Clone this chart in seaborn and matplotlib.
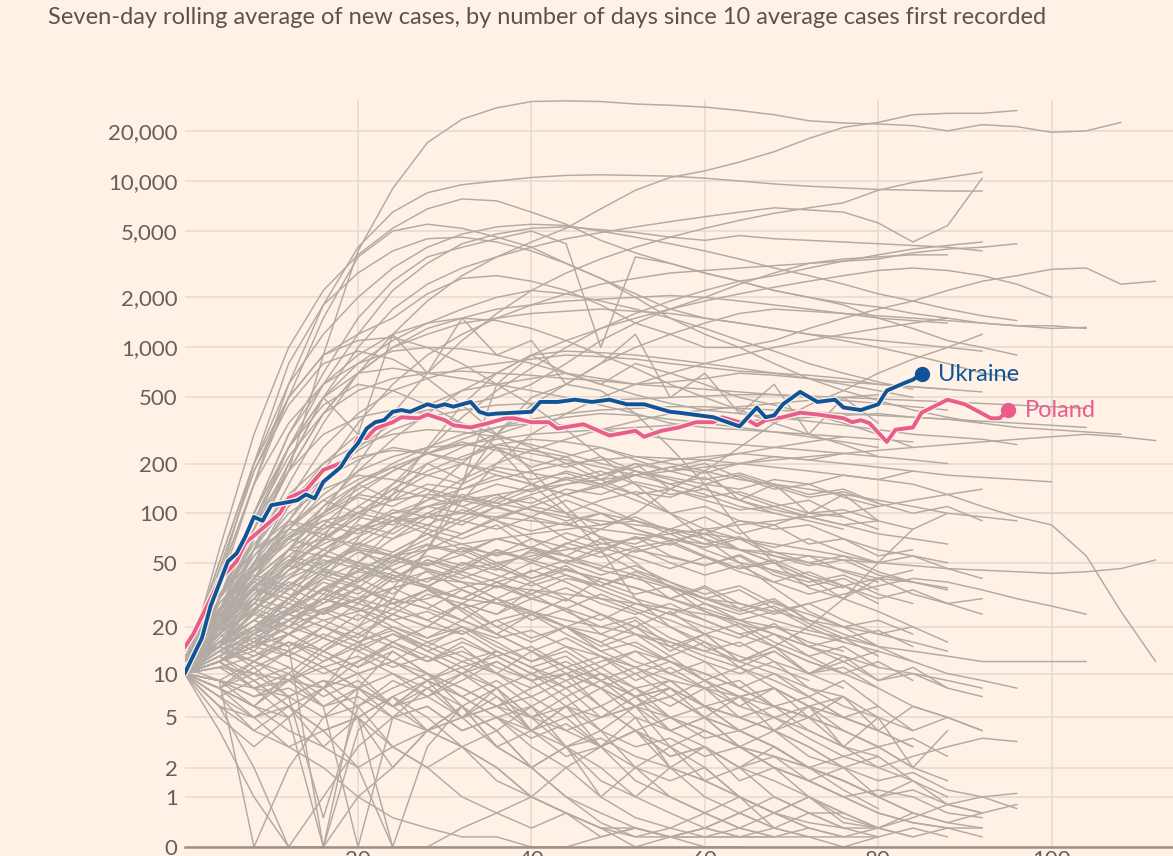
import numpy as np
import pandas as pd
import matplotlib
matplotlib.use("Agg")
import matplotlib.pyplot as plt
import matplotlib.patheffects as pe
import seaborn as sns

# ---------------- data ----------------
TITLE = "Seven-day rolling average of new cases, by number of days since 10 average cases first recorded"

ukraine_days = [0, 2, 3, 5, 6, 7, 8, 9, 10, 12, 13, 14, 15, 16, 18, 19, 20, 21, 22, 23, 24, 25, 26, 28, 29, 30,
                31, 33, 34, 35, 36, 38, 40, 41, 43, 45, 47, 49, 51, 53, 56, 57, 61, 64, 66, 67, 68, 69, 71, 73,
                75, 76, 78, 80, 81, 83, 84, 85]
ukraine_vals = [10, 17, 27, 51, 57, 72, 95, 90, 112, 117, 120, 130, 123, 155, 190, 230, 265, 325, 355, 365, 410,
                420, 410, 455, 440, 455, 440, 470, 410, 395, 400, 405, 410, 470, 470, 485, 470, 485, 455, 455,
                410, 405, 380, 335, 435, 380, 390, 455, 540, 470, 485, 435, 420, 455, 550, 610, 640, 690]

poland_days = [0, 1, 3, 4, 6, 7, 9, 11, 12, 14, 16, 18, 19, 20, 21, 22, 24, 25, 27, 28, 30, 31, 33, 35, 37, 38,
               40, 42, 43, 46, 49, 52, 53, 55, 57, 59, 61, 62, 64, 65, 66, 67, 69, 71, 73, 76, 77, 78, 79, 81,
               82, 84, 85, 88, 90, 93, 94, 95]
poland_vals = [14.8, 18, 30, 39, 51, 66, 81, 100, 124, 138, 183, 201, 218, 285, 285, 325, 355, 380, 375, 395,
               365, 340, 330, 350, 375, 375, 355, 355, 325, 345, 295, 315, 290, 315, 330, 355, 355, 380, 355,
               365, 340, 365, 380, 405, 395, 375, 355, 365, 350, 270, 320, 330, 405, 485, 455, 375, 375, 420]

# other countries, sampled every STEP days from day 0
STEP = 4
a01 = [10, 30, 90, 180, 900, 3800, 9000, 17000, 23500, 27500, 30000, 30300, 30000, 29000, 28500, 27800, 26500,
       25000, 23000, 22300, 22000, 21500, 20000, 21800, 21200, 19600, 20000, 22500]
a02 = [10, 22, 60, 150, 350, 700, 1200, 1900, 2700, 3500, 4300, 5200, 6800, 8800, 10500, 11500, 13000, 15000,
       18000, 21000, 22500, 25000, 25500, 25500, 26500]
a03 = [10, 60, 300, 1000, 2200, 3600, 5200, 6800, 7800, 7600, 6500, 5500, 4400, 3700, 3200, 2800, 2500, 2200,
       2000, 1850, 1750, 1600, 1500, 1400, 1350, 1300, 1320]
a04 = [12, 50, 200, 600, 1200, 2000, 3000, 4000, 4800, 5300, 5500, 5400, 5000, 4600, 4200, 3800, 3400, 3000,
       2700, 2400, 2100, 1900, 1700, 1550, 1450]
a05 = [10, 25, 80, 250, 600, 1200, 2200, 3200, 4200, 4800, 5200, 5300, 5100, 4900, 4600, 4400, 4700, 4500,
       4400, 4300, 4200, 4100, 4000, 3800]
a06 = [10, 30, 100, 300, 700, 1500, 2500, 3500, 4000, 4500, 5000, 4200, 1000, 3500, 3200, 2800, 2500, 2200,
       2000, 1800, 1500, 1300, 1100, 1000, 900]
a07 = [10, 40, 150, 500, 1500, 3500, 5000, 5500, 5200, 4600, 4000, 3200, 2600, 2000, 1500, 1200, 1000, 800,
       650, 550, 480, 420, 380, 350]
a08 = [12, 45, 180, 500, 900, 1200, 1500, 2100, 2600, 2700, 2500, 2200, 1800, 1400, 1200, 1000, 1000, 1100,
       1300, 1500, 1700, 1900, 2200, 2500, 2700, 2950, 3000, 2400, 2500]
a09 = [10, 15, 25, 50, 100, 200, 400, 700, 1100, 1600, 2200, 2800, 3400, 4000, 4600, 5200, 5800, 6400, 6900,
       7400, 8800, 9800, 10500, 11300]
a10 = [10, 35, 150, 600, 1800, 4000, 6500, 8500, 9500, 10000, 10500, 10800, 10900, 10800, 10700, 10400,
       10000, 9600, 9300, 9100, 8900, 8800, 8700, 8700]
a11 = [10, 20, 60, 200, 500, 1000, 1700, 2400, 3000, 3500, 4000, 4500, 4900, 5300, 5700, 6100, 6500, 6900,
       6700, 6500, 5600, 4300, 5400, 10400]
a12 = [10, 18, 40, 90, 180, 350, 600, 900, 1200, 1500, 1800, 2100, 2400, 2600, 2800, 2900, 3000, 3100, 3200,
       3300, 3400, 3700, 3900, 4000, 4200]
a13 = [10, 40, 200, 800, 1800, 2800, 3800, 4500, 4600, 4300, 3800, 3200, 2600, 2100, 1700, 1500, 1400, 1300,
       1200, 1150, 1100, 1050, 1000, 950]
a14 = [10, 30, 100, 300, 600, 900, 1200, 1400, 1500, 1450, 1300, 1100, 900, 750, 600, 500, 420, 350, 300,
       260, 220]

b01 = [10, 25, 70, 180, 400, 700, 1000, 1300, 1500, 1700, 1800, 1900, 1950, 2000, 2050, 2000, 1900, 1800,
       1700, 1600, 1500, 1450, 1400]
b02 = [10, 30, 90, 250, 500, 800, 1100, 1400, 1700, 2000, 2200, 2100, 1900, 1700, 1500, 1300, 1100, 950,
       800, 700, 620, 560]
b03 = [10, 12, 18, 30, 55, 90, 150, 240, 380, 550, 750, 1000, 1300, 1600, 1900, 2200, 2500, 2700, 3000, 3300,
       3600, 3900, 4100, 4300]
b04 = [10, 20, 50, 110, 200, 300, 380, 420, 450, 500, 600, 800, 1100, 1400, 1700, 2000, 2400, 2800, 3200,
       3400, 3500, 3600, 3600]
b05 = [10, 25, 70, 180, 400, 700, 1000, 1200, 1400, 1500, 1600, 1650, 1700, 1650, 1600, 1500, 1400, 1300,
       1200, 1100, 1000, 900, 800, 700, 650]
b06 = [10, 18, 40, 80, 150, 250, 350, 450, 550, 600, 650, 700, 650, 600, 620, 650, 700, 680, 650, 620, 600,
       580, 560]
b07 = [10, 15, 30, 60, 110, 180, 280, 400, 550, 700, 900, 1100, 1300, 1500, 1700, 1900, 2100, 2300, 2500,
       2700, 2900, 3000, 2900, 2700, 2400, 2000]
b08 = [10, 12, 15, 20, 30, 50, 80, 130, 200, 300, 450, 600, 800, 1000, 1200, 1400, 1600, 1700, 1650, 1600,
       1550, 1500, 1450, 1400, 1350, 1350, 1300]
b09 = [10, 30, 80, 200, 500, 300, 1200, 700, 1500, 900, 1100, 600, 800, 1200, 500, 700, 400, 600, 300, 500,
       350]
b10 = [10, 50, 200, 500, 900, 1100, 1150, 1000, 800, 600, 450, 320, 220, 150, 100, 70, 50, 35, 25, 20, 15]
b11 = [10, 45, 180, 450, 800, 950, 850, 650, 450, 300, 180, 110, 70, 50, 35, 25, 20, 15, 12, 10]
b12 = [10, 30, 100, 250, 500, 700, 750, 700, 650, 600, 550, 500, 450, 400, 350, 330, 320, 310, 300, 290, 280,
       270]
b13 = [10, 30, 100, 250, 450, 600, 550, 450, 350, 250, 150, 100, 60, 30, 20, 15, 12, 15, 20, 30, 50, 80, 100]
b14 = [10, 12, 15, 25, 40, 70, 130, 250, 450, 700, 900, 950, 930, 900, 850, 800, 750, 700, 650, 600, 550, 500]
b15 = [10, 8, 6, 10, 15, 20, 35, 60, 150, 600, 900, 700, 600, 800, 700, 600, 500, 450, 400, 350, 300, 250]
b16 = [10, 12, 15, 18, 25, 35, 50, 80, 150, 300, 500, 600, 550, 400, 250, 150, 80, 50, 35, 30, 40, 45]
b17 = [10, 30, 90, 220, 400, 550, 650, 700, 720, 700, 680, 650, 630, 600, 580, 560, 540, 520, 500, 480, 460,
       440, 420]
b18 = [10, 20, 50, 120, 250, 400, 550, 650, 750, 800, 850, 900, 880, 850, 800, 760, 720, 700, 680, 650, 600,
       580, 560, 540]
b19 = [10, 40, 150, 350, 600, 800, 950, 1000, 980, 900, 800, 700, 600, 520, 460, 420, 400, 380, 360, 340, 320,
       300, 290, 280, 260]

c01 = [10, 20, 45, 80, 130, 180, 220, 250, 260, 250, 230, 210, 190, 170, 150, 130, 110, 100, 90, 80]
c02 = [10, 25, 60, 120, 180, 220, 240, 230, 200, 170, 150, 130, 110, 90, 75, 60, 50, 45, 40, 35]
c03 = [10, 14, 20, 30, 45, 65, 90, 120, 160, 200, 240, 280, 320, 360, 400, 420, 440, 460, 480, 500, 520]
c04 = [10, 18, 35, 60, 100, 150, 200, 250, 300, 330, 350, 340, 320, 300, 280, 270, 260, 250, 240, 230, 220,
       210, 200]
c05 = [10, 15, 25, 40, 60, 80, 100, 110, 120, 130, 140, 150, 160, 170, 180, 190, 200, 210, 220, 230, 240, 250,
       260, 270, 280, 290, 300, 290, 275]
c06 = [10, 20, 40, 70, 110, 150, 190, 230, 260, 280, 300, 310, 320, 330, 340, 350, 360, 370, 380, 390, 400,
       380, 370, 360, 350, 340, 330]
c07 = [10, 30, 80, 180, 300, 380, 420, 400, 350, 300, 250, 200, 160, 130, 100, 80, 60, 50, 40, 30, 25, 20]
c08 = [10, 20, 50, 90, 70, 150, 120, 200, 160, 250, 190, 220, 170, 200, 140, 180, 120, 150, 100, 130, 90]
c09 = [10, 25, 55, 100, 140, 170, 160, 140, 110, 90, 70, 55, 45, 40, 35, 30, 28, 25, 22, 20, 18, 16, 14]
c10 = [10, 15, 25, 45, 70, 100, 140, 180, 220, 260, 280, 270, 250, 220, 200, 180, 160, 150, 140, 130, 120,
       110, 100, 95, 90]
c11 = [10, 12, 16, 22, 30, 40, 55, 70, 90, 110, 130, 150, 170, 190, 210, 220, 230, 220, 210, 200, 190, 180,
       170, 165, 160, 155]
c12 = [10, 20, 35, 55, 80, 100, 120, 130, 125, 115, 105, 95, 90, 85, 80, 75, 70, 65, 60, 55, 50]
c13 = [10, 30, 70, 130, 200, 260, 300, 320, 310, 290, 260, 230, 200, 180, 160, 140, 120, 105, 95, 85, 75, 70,
       65]
c14 = [10, 18, 30, 50, 75, 110, 150, 200, 250, 300, 350, 380, 400, 390, 370, 350, 330, 310, 290, 270, 250]
c15 = [10, 15, 25, 40, 60, 80, 100, 120, 140, 160, 180, 200, 210, 220, 215, 210, 200, 190, 180, 170, 160, 150,
       130, 110, 95, 85, 55, 25, 12]
c16 = [10, 20, 35, 50, 65, 80, 90, 95, 100, 95, 90, 85, 80, 75, 70, 65, 60, 58, 55, 52, 50, 48, 46, 45, 44, 43,
       44, 46, 52]
c17 = [10, 12, 15, 18, 22, 25, 28, 30, 35, 40, 50, 65, 80, 100, 140, 180, 250, 350, 450, 550, 700, 850, 1000,
       1200]
c18 = [10, 8, 6, 5, 8, 15, 30, 60, 120, 200, 300, 400, 500, 600, 700, 800, 900, 1000, 1100, 1200, 1300, 1400,
       1500]
c19 = [10, 20, 45, 90, 160, 240, 320, 380, 420, 450, 460, 470, 480, 490, 500, 510, 520, 520, 510, 500, 490,
       480, 470, 460, 450, 440, 430]
c20 = [10, 15, 28, 50, 85, 130, 180, 230, 280, 330, 370, 400, 420, 430, 440, 440, 430, 420, 410, 400, 390,
       380, 370, 350, 330, 320, 310, 300]

d01 = [10, 18, 30, 45, 55, 50, 40, 35, 30, 28, 25, 22, 20, 18, 16, 14, 12, 10, 8, 7]
d02 = [10, 15, 22, 35, 28, 40, 32, 45, 38, 30, 25, 20, 24, 18, 15, 12, 10, 12, 8, 6, 5]
d03 = [10, 20, 40, 60, 70, 65, 55, 45, 38, 30, 25, 20, 16, 12, 10, 8, 6, 5, 4, 3, 2.5]
d04 = [10, 12, 18, 25, 35, 45, 55, 60, 65, 70, 75, 80, 85, 90, 80, 70, 60, 55, 50, 45, 40, 38, 35]
d05 = [10, 14, 20, 28, 24, 30, 26, 34, 30, 38, 32, 40, 36, 30, 26, 22, 18, 15, 12, 10, 8, 6, 5, 4]
d06 = [10, 25, 45, 70, 90, 100, 90, 75, 60, 48, 38, 30, 24, 20, 16, 13, 11, 9, 7, 5, 4]
d07 = [10, 16, 28, 40, 50, 60, 55, 65, 58, 70, 62, 55, 48, 42, 36, 30, 26, 22, 19, 17, 15, 14, 13, 12, 12, 12,
       12]
d08 = [10, 12, 15, 20, 25, 30, 35, 40, 45, 50, 55, 60, 65, 70, 75, 80, 85, 90, 95, 100, 110, 120, 130, 140]
d09 = [10, 22, 35, 30, 42, 36, 28, 34, 26, 30, 22, 26, 18, 22, 15, 18, 12, 14, 10, 8]
d10 = [10, 18, 25, 20, 30, 25, 35, 28, 22, 18, 24, 20, 16, 20, 14, 18, 12, 15, 10, 13, 9, 11, 8]
d11 = [10, 30, 60, 80, 75, 60, 45, 35, 25, 18, 14, 10, 8, 6, 5, 4, 3, 2.5, 2, 1.5]
d12 = [10, 15, 20, 30, 40, 50, 45, 55, 48, 60, 52, 45, 40, 35, 30, 26, 22, 25, 28, 32, 36, 40, 38, 34, 30, 27,
       24]
d13 = [10, 14, 18, 22, 26, 30, 35, 40, 38, 36, 34, 32, 30, 28, 26, 24, 22, 20, 18, 16, 14, 12, 10, 9, 8]
d14 = [10, 20, 15, 25, 35, 28, 40, 50, 42, 35, 45, 38, 30, 25, 20, 16, 13, 11, 9]
d15 = [10, 13, 17, 22, 28, 35, 30, 26, 22, 30, 38, 45, 40, 35, 30, 25, 21, 18, 15, 13, 11, 10, 9, 8]

e01 = [10, 8, 5, 3, 2, 1, 0.5, 0.3, 0.15, 0.15, 0, 0, 0.15, 0.3, 0.15, 0, 0]
e02 = [10, 12, 8, 10, 6, 8, 5, 6, 4, 5, 3, 2, 3, 1.5, 1, 0.6, 0.3, 0.15, 0.15]
e03 = [10, 6, 2, 0, 1, 3, 5, 4, 6, 3, 2, 1, 0.4, 0.15, 0.3, 0.6, 0.3, 0.15]
e04 = [10, 15, 12, 18, 14, 20, 16, 12, 15, 10, 8, 10, 6, 8, 5, 4, 3, 2, 1.5, 1, 0.6, 0.4, 0.3]
e05 = [10, 8, 12, 9, 14, 11, 16, 13, 10, 14, 11, 8, 10, 7, 5, 6, 4, 3, 2, 1.2, 0.7]
e06 = [10, 14, 18, 15, 20, 16, 12, 9, 7, 5, 4, 3, 3.5, 2.5, 2, 1.5, 1, 0.6, 0.4, 0.3, 0.3, 0.15]
e07 = [10, 4, 1, 0, 0, 1, 2, 4, 3, 2, 1, 0.6, 0.3, 0.15, 0.15, 0.3, 0.6, 1, 0.6, 0.3]
e08 = [10, 9, 7, 8, 6, 7, 5, 6, 4, 5, 3.5, 4.5, 3, 4, 2.5, 3, 2, 2.5, 1.5, 2, 1, 1.5, 0.8, 0.6]
e09 = [10, 12, 15, 13, 17, 14, 11, 13, 10, 12, 9, 11, 8, 10, 7, 9, 6, 8, 5, 7, 4, 6, 5, 4]
e10 = [10, 16, 22, 18, 25, 20, 26, 22, 18, 22, 17, 20, 15, 18, 13, 16, 11, 14, 10, 12, 9, 10, 8, 7]
e11 = [10, 11, 10, 9, 8, 10, 12, 10, 8, 6, 5, 4, 5, 6, 7, 5, 4, 3, 2, 1.5, 1, 0.6, 0.4, 0.3]
e12 = [10, 7, 5, 6, 4, 2, 0, 0, 0.3, 0.6, 1, 2, 1, 0.5, 0.3, 0.15, 0.15, 0.15]
e13 = [10, 13, 16, 20, 17, 14, 18, 15, 12, 14, 11, 9, 11, 8, 6, 8, 5, 4, 5, 3, 2, 2.5, 3, 3.5, 3.3]
e14 = [10, 9, 8, 7, 9, 8, 6, 7, 5, 6, 4, 5, 3, 4, 2.5, 3, 2, 1.5, 1, 0.5, 0.3, 0.5, 0.8, 1, 1.1]
e15 = [10, 18, 14, 22, 17, 24, 19, 15, 20, 16, 12, 15, 11, 14, 10, 12, 8, 10, 7, 9, 6]
e16 = [10, 20, 28, 24, 30, 26, 22, 25, 20, 17, 19, 15, 13, 11, 9, 8, 7, 6, 5]
e17 = [10, 5, 3, 5, 8, 12, 16, 20, 18, 22, 25, 20, 18, 15, 12, 10, 8, 6, 5, 4, 3]
e18 = [10, 9, 6, 4, 3, 2, 3, 4, 5, 6, 8, 10, 12, 14, 12, 10, 8, 6, 5, 4, 3, 2, 1.5]
e19 = [10, 14, 12, 16, 13, 10, 12, 9, 11, 8, 10, 7, 9, 6, 8, 5, 7, 4, 6, 3, 5, 2, 4]
e20 = [10, 8, 10, 7, 0.5, 6, 9, 7, 10, 8, 5, 7, 4, 6, 3, 2, 1, 0.6, 0.3, 0.15, 0.3, 0.6]
e21 = [10, 12, 14, 11, 8, 5, 0, 3, 6, 4, 2, 1, 0.6, 0.3, 0.15, 0.15, 0.15, 0.3]
e22 = [10, 16, 20, 15, 0, 8, 14, 10, 6, 8, 5, 3, 2, 1, 0.6, 0.3, 0.15]

f01 = [12, 25, 40, 60, 55, 80, 70, 95, 85, 110, 95, 120, 100, 90, 80, 95, 75, 85, 65, 70, 55, 60]
f02 = [11, 20, 35, 28, 45, 38, 55, 48, 62, 50, 40, 48, 36, 42, 30, 35, 26, 30, 22]
f03 = [10, 28, 50, 75, 100, 130, 120, 150, 140, 170, 150, 130, 145, 120, 100, 110, 90, 80, 85, 70, 60, 55, 50]
f04 = [13, 22, 30, 45, 60, 50, 70, 85, 75, 95, 110, 100, 120, 135, 125, 150, 140, 160, 150, 170, 160, 180]
f05 = [10, 17, 26, 38, 32, 48, 42, 36, 44, 38, 30, 35, 28, 24, 28, 22, 18, 20, 16, 14]
f06 = [12, 30, 55, 85, 120, 160, 190, 170, 200, 180, 160, 175, 150, 130, 140, 120, 105, 110, 95, 85, 90, 80]
f07 = [10, 15, 24, 20, 32, 28, 40, 35, 50, 45, 60, 55, 70, 65, 80, 75, 90, 85, 100, 95]
f08 = [11, 24, 38, 55, 48, 66, 58, 75, 65, 55, 62, 50, 42, 48, 38, 32, 36, 28, 24, 20, 22, 18]
f09 = [10, 19, 32, 48, 70, 95, 85, 110, 130, 115, 140, 160, 145, 170, 190, 175, 200, 220, 210, 230]
f10 = [14, 26, 42, 36, 52, 46, 38, 44, 34, 28, 32, 25, 20, 23, 17, 14, 16, 12, 10, 11, 8]
f11 = [10, 16, 22, 30, 40, 35, 28, 34, 26, 20, 24, 18, 14, 16, 12, 9, 11, 8, 6, 7, 5, 4]
f12 = [12, 20, 30, 42, 56, 72, 90, 110, 100, 125, 115, 140, 130, 155, 140, 125, 135, 115, 100, 105, 90]
f13 = [10, 22, 45, 70, 60, 85, 75, 100, 90, 80, 95, 70, 60, 72, 55, 48, 55, 42, 36, 40, 32, 28]
f14 = [11, 18, 28, 24, 34, 30, 42, 36, 30, 38, 44, 52, 46, 60, 54, 48, 56, 44, 38, 42, 34]
f15 = [10, 13, 19, 26, 34, 44, 58, 75, 95, 120, 150, 180, 160, 200, 180, 160, 175, 150, 130, 140, 115, 100,
       110, 90]
f16 = [15, 32, 60, 90, 80, 110, 95, 80, 70, 85, 60, 50, 58, 45, 38, 30, 34, 26, 20, 16]
f17 = [10, 20, 16, 26, 22, 18, 24, 20, 28, 24, 30, 26, 22, 28, 24, 20, 17, 21, 15, 12, 14]
f18 = [12, 26, 44, 66, 90, 80, 105, 95, 120, 108, 95, 85, 100, 80, 70, 62, 70, 55, 48, 52, 42, 38, 34]
f19 = [10, 14, 18, 24, 20, 28, 24, 32, 28, 36, 30, 26, 32, 26, 22, 18, 21, 16, 13, 15, 11]
f20 = [11, 23, 40, 34, 56, 48, 40, 52, 44, 60, 50, 42, 36, 44, 36, 30, 25, 29, 22, 18, 15, 12]
f21 = [10, 30, 65, 110, 160, 210, 250, 230, 270, 240, 210, 190, 220, 180, 150, 165, 130, 110, 120, 95, 80]
f22 = [13, 18, 26, 22, 30, 26, 20, 16, 19, 14, 11, 13, 9, 7, 8, 6, 5, 6, 4, 3]
f23 = [10, 21, 34, 48, 42, 58, 50, 64, 56, 70, 62, 76, 66, 58, 66, 54, 46, 52, 42, 36, 40, 32, 28, 30]
f24 = [12, 16, 22, 18, 26, 22, 30, 26, 34, 28, 24, 30, 24, 20, 25, 18, 15, 18, 13, 10, 12, 9]
f25 = [10, 26, 48, 80, 120, 100, 140, 125, 110, 130, 105, 90, 100, 80, 68, 75, 60, 50, 55, 44, 38]
f26 = [11, 15, 20, 26, 34, 44, 40, 52, 46, 58, 52, 66, 58, 72, 64, 80, 70, 62, 70, 58, 50, 55, 46, 40]
f27 = [10, 24, 18, 30, 24, 36, 28, 22, 28, 20, 16, 20, 14, 11, 13, 9, 7, 8, 6, 5, 4, 3]
f28 = [14, 28, 48, 72, 100, 140, 180, 230, 210, 260, 240, 220, 250, 210, 180, 200, 165, 140, 150, 125, 110]
f29 = [10, 12, 16, 14, 20, 17, 24, 20, 28, 24, 34, 29, 40, 35, 30, 36, 28, 24, 28, 22, 18, 20, 16]
f30 = [12, 22, 36, 52, 46, 62, 55, 48, 56, 46, 40, 46, 38, 32, 36, 28, 24, 27, 21, 17, 19, 15]
f31 = [10, 18, 30, 26, 38, 32, 44, 38, 50, 42, 36, 42, 34, 28, 24, 28, 22, 18, 15, 17, 13]
f32 = [11, 20, 32, 48, 68, 95, 130, 170, 150, 190, 175, 160, 180, 150, 130, 140, 120, 100]
f33 = [10, 14, 12, 16, 14, 18, 15, 12, 14, 11, 9, 10, 8, 6, 7, 5, 4, 5, 3.5, 2.5, 3, 2]
f34 = [13, 24, 40, 60, 85, 75, 95, 85, 105, 90, 78, 88, 72, 62, 68, 55, 46, 50, 40]
f35 = [10, 20, 34, 30, 44, 38, 52, 46, 40, 48, 58, 50, 62, 54, 46, 54, 44, 38, 44, 36, 30, 34, 28, 24]
f36 = [12, 18, 26, 36, 48, 62, 80, 100, 125, 150, 135, 165, 150, 180, 165, 150, 170, 145, 125, 135, 115]
f37 = [10, 22, 38, 32, 24, 30, 22, 17, 20, 15, 12, 14, 10, 8, 9, 6, 5, 4, 3, 2]
f38 = [11, 16, 24, 34, 46, 40, 54, 48, 62, 56, 70, 62, 54, 62, 50, 42, 48, 38, 32, 36, 28]
f39 = [10, 26, 46, 70, 96, 125, 110, 140, 125, 110, 125, 100, 85, 95, 78, 65, 72, 58, 50, 55, 44, 38]
f40 = [12, 15, 19, 24, 30, 38, 48, 60, 75, 92, 110, 130, 150, 170, 190, 210, 230, 250, 270, 290]

g01 = [10, 7, 4, 6, 3, 5, 2, 4, 6, 3, 2, 3, 1, 2, 1, 0.6, 1, 0.3, 0.6, 0.3, 0.15, 0.3, 0.15]
g02 = [10, 12, 9, 6, 8, 5, 7, 4, 5, 3, 4, 2.5, 3, 2, 1.5, 2, 1, 0.6, 1, 0.4, 0.3, 0.15, 0.3, 0.15]
g03 = [11, 9, 0, 2, 5, 8, 6, 9, 7, 5, 6, 4, 3, 4, 2, 1.5, 1, 0.6, 0.3]
g04 = [10, 13, 10, 14, 11, 8, 10, 7, 9, 12, 9, 6, 8, 5, 4, 5, 3, 2.5, 2, 1.5, 1, 1.2, 0.8, 0.6]
g05 = [10, 6, 4, 3, 4, 5, 7, 9, 12, 10, 14, 11, 9, 7, 9, 6, 4, 3, 2, 2.5, 2, 1.5]
g06 = [12, 15, 11, 7, 5, 6, 3, 2, 3, 1.5, 1, 0.6, 0.3, 0, 0.15, 0.3, 0.15, 0.15, 0.3, 0.15, 0.15]
g07 = [10, 8, 11, 14, 18, 15, 12, 16, 13, 10, 7, 9, 6, 4, 5, 3.5, 4, 3, 2, 1.5, 1, 0.6, 0.4, 0.6, 0.8]
g08 = [10, 11, 8, 5, 0, 4, 7, 5, 3, 4, 2, 3, 1.5, 1, 2, 1, 0.6, 0.3, 0.15, 0.15]
g09 = [10, 14, 17, 13, 10, 12, 15, 12, 16, 13, 10, 12, 9, 11, 8, 6, 7, 5, 6, 4, 3, 3.5, 2.5]
g10 = [10, 9, 12, 10, 7, 9, 6, 8, 5, 7, 4, 6, 5, 7, 4, 3, 2, 3, 2, 1.5, 1]
g11 = [10, 7, 9, 6, 4, 5, 3, 2, 1, 0.6, 0.3, 0.6, 0.15, 0.3, 0.15, 0.3, 0.6, 0.3, 0.15, 0, 0.15]
g12 = [10, 15, 20, 24, 20, 16, 19, 14, 17, 13, 15, 11, 13, 9, 11, 8, 9, 6, 7, 5, 6, 4, 5]
g13 = [10, 12, 8, 9, 6, 0, 5, 8, 6, 4, 6, 3, 4, 2, 3, 1.5, 2, 1, 0.6, 0.6, 0.3]
g14 = [10, 9, 7, 9, 11, 13, 10, 8, 10, 7, 5, 6, 4, 3, 3.5, 2.5, 3, 2, 1.5, 1, 1.2, 1, 0.6, 0.5]
g15 = [10, 11, 13, 16, 12, 15, 18, 14, 11, 13, 10, 8, 10, 7, 8, 6, 5, 4, 3, 2, 2.5, 1.5, 1]
g16 = [10, 6, 5, 7, 9, 6, 8, 10, 8, 6, 7, 5, 6, 4, 3, 4, 3, 2, 1.5, 1, 0.6, 0.4, 0.3, 0.3]
g17 = [10, 12, 16, 14, 11, 8, 6, 4, 3, 2, 1, 0.6, 0.3, 0.3, 0.15, 0.15, 0.3, 0.6, 1, 0.6, 0.3]
g18 = [10, 8, 6, 9, 12, 16, 20, 17, 22, 18, 14, 17, 13, 10, 12, 9, 7, 8, 6, 5, 4, 3]
g19 = [10, 13, 9, 11, 8, 10, 6, 9, 5, 8, 4, 6, 3, 5, 2, 3, 1.5, 2, 1, 0.6]
g20 = [10, 16, 13, 18, 14, 11, 14, 10, 7, 9, 6, 8, 5, 6, 4, 5, 3, 4, 2.5, 2, 1.5, 1.8, 1.2, 1, 0.7]

y_ticks = [0, 1, 2, 5, 10, 20, 50, 100, 200, 500, 1000, 2000, 5000, 10000, 20000]
y_tick_labels = ["0", "1", "2", "5", "10", "20", "50", "100", "200", "500", "1,000", "2,000", "5,000",
                 "10,000", "20,000"]
x_ticks = [20, 40, 60, 80, 100]

# ---------------- table ----------------
others = [a01, a02, a03, a04, a05, a06, a07, a08, a09, a10, a11, a12, a13, a14,
          b01, b02, b03, b04, b05, b06, b07, b08, b09, b10, b11, b12, b13, b14, b15, b16, b17, b18, b19,
          c01, c02, c03, c04, c05, c06, c07, c08, c09, c10, c11, c12, c13, c14, c15, c16, c17, c18, c19, c20,
          d01, d02, d03, d04, d05, d06, d07, d08, d09, d10, d11, d12, d13, d14, d15,
          e01, e02, e03, e04, e05, e06, e07, e08, e09, e10, e11, e12, e13, e14, e15, e16, e17, e18, e19, e20,
          e21, e22,
          f01, f02, f03, f04, f05, f06, f07, f08, f09, f10, f11, f12, f13, f14, f15, f16, f17, f18, f19, f20,
          f21, f22, f23, f24, f25, f26, f27, f28, f29, f30, f31, f32, f33, f34, f35, f36, f37, f38, f39, f40,
          g01, g02, g03, g04, g05, g06, g07, g08, g09, g10, g11, g12, g13, g14, g15, g16, g17, g18, g19, g20]
rows = []
for k, vals in enumerate(others):
    for i, v in enumerate(vals):
        rows.append({"country": k, "day": i * STEP, "cases": v})
grey_df = pd.DataFrame(rows)
ua_df = pd.DataFrame({"day": ukraine_days, "cases": ukraine_vals})
pl_df = pd.DataFrame({"day": poland_days, "cases": poland_vals})

# ---------------- style ----------------
BG = "#FFF1E5"
GREY = "#B2AAA3"
BLUE = "#0F5499"
PINK = "#E95D8C"
GRID = "#E6D9CE"
TXT = "#66605C"

sns.set_theme(style="white")
plt.rcParams["font.family"] = ["Lato", "DejaVu Sans"]


def fwd(v):
    v = np.asarray(v, dtype=float)
    return np.sign(v) * np.log10(np.abs(v) + 1)


def inv(t):
    t = np.asarray(t, dtype=float)
    return np.sign(t) * (10 ** np.abs(t) - 1)


W, H = 1173, 856
fig = plt.figure(figsize=(W / 100, H / 100), dpi=100, facecolor=BG)
x0, y_bottom, y_top = 184.6, 847, 100
ax = fig.add_axes([x0 / W, (H - y_bottom) / H, 1 - x0 / W, (y_bottom - y_top) / H])
ax.set_facecolor(BG)
ax.set_yscale("function", functions=(fwd, inv))

sns.lineplot(data=grey_df, x="day", y="cases", units="country", estimator=None, color=GREY,
             linewidth=1.05, ax=ax, legend=False, sort=False, zorder=2)

halo = [pe.Stroke(linewidth=4.6, foreground=BG), pe.Normal()]
sns.lineplot(data=pl_df, x="day", y="cases", color=PINK, linewidth=2.8, ax=ax, zorder=4,
             path_effects=halo)
sns.lineplot(data=ua_df, x="day", y="cases", color=BLUE, linewidth=2.8, ax=ax, zorder=5,
             path_effects=halo)

ax.plot(ukraine_days[-1], ukraine_vals[-1], "o", color=BLUE, markersize=10, zorder=6)
ax.plot(poland_days[-1], poland_vals[-1], "o", color=PINK, markersize=10, zorder=6)
ax.annotate("Ukraine", (ukraine_days[-1], ukraine_vals[-1]), xytext=(12, 0), textcoords="offset points",
            va="center", ha="left", color=BLUE, fontsize=17)
ax.annotate("Poland", (poland_days[-1], poland_vals[-1]), xytext=(12, 0), textcoords="offset points",
            va="center", ha="left", color=PINK, fontsize=17)

ax.set_xlim(0, (W - x0) / 8.67)
ax.set_ylim(0, inv((y_bottom - y_top) / 166.5))
ax.set_yticks(y_ticks)
ax.set_yticklabels(y_tick_labels)
ax.set_xticks(x_ticks)
ax.set_xticklabels([str(t) for t in x_ticks])
ax.minorticks_off()
ax.tick_params(axis="both", length=0, labelsize=16, labelcolor=TXT)
ax.tick_params(axis="y", pad=5)
ax.tick_params(axis="x", pad=2)
ax.set_xlabel("")
ax.set_ylabel("")
ax.grid(True, color=GRID, linewidth=1.1)
ax.set_axisbelow(True)
for s in ["left", "right", "top"]:
    ax.spines[s].set_visible(False)
ax.spines["bottom"].set_color("#9E8E84")
ax.spines["bottom"].set_linewidth(1.8)

fig.text(48 / W, 1 - 18 / H, TITLE, ha="left", va="center", fontsize=17, color="#5A5350")

fig.savefig("out.png", dpi=100, facecolor=BG)
